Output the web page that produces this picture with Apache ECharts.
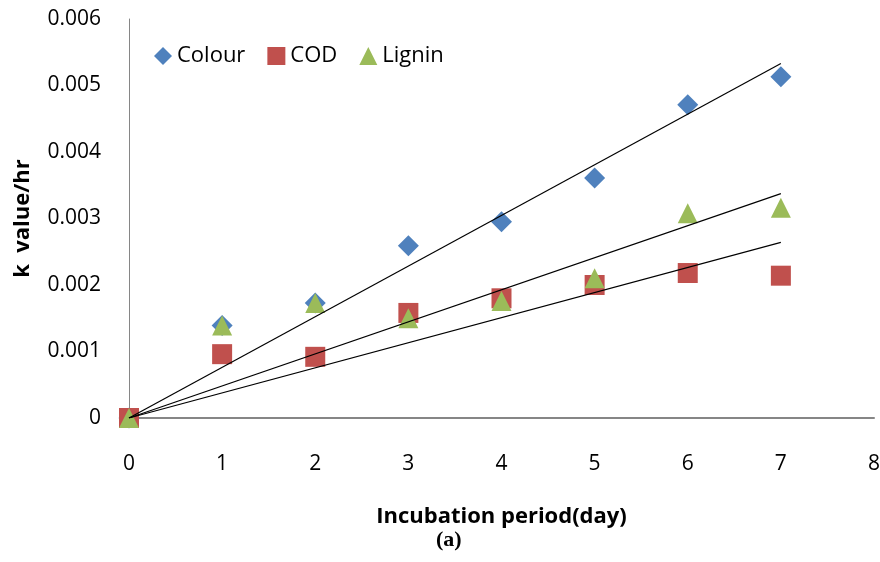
<!DOCTYPE html>
<html>
<head>
<meta charset="utf-8">
<script src="https://cdn.jsdelivr.net/npm/echarts@6/dist/echarts.min.js"></script>
<style>
  html, body { margin: 0; padding: 0; background: #fff; }
  #chart { width: 880px; height: 562px; }
</style>
</head>
<body>
<div id="chart"></div>
<script>
// incubation days and k values
const days = [0, 1, 2, 3, 4, 5, 6, 7]
const colourK = [0, 0.00139, 0.00173, 0.00259, 0.00295, 0.00361, 0.00471, 0.00513]
const codK = [0, 0.00096, 0.00092, 0.00158, 0.0018, 0.002, 0.00218, 0.00214]
const ligninK = [0, 0.00139, 0.00173, 0.0015, 0.00176, 0.0021, 0.00308, 0.00316]

const seriesNames = ['Colour', 'COD', 'Lignin']
const seriesColors = ['#4F81BD', '#C0504D', '#9BBB59']
const seriesSymbols = ['diamond', 'rect', 'triangle']

// excel style linear trendline forced through origin
const fitLine = (ys) => {
    let sxy = 0, sxx = 0
    days.forEach((x, i) => { sxy += x * ys[i]; sxx += x * x })
    const k = sxy / sxx
    const last = days[days.length - 1]
    return [[0, 0], [last, k * last]]
}

const pairs = (ys) => days.map((d, i) => [d, ys[i]])

const font = 'Open Sans'
const allK = [colourK, codK, ligninK]

const series = []
allK.forEach((ys, i) => {
    series.push({
        name: seriesNames[i],
        type: 'scatter',
        data: pairs(ys),
        symbol: seriesSymbols[i],
        symbolSize: seriesSymbols[i] === 'diamond' ? 21 : 20,
        itemStyle: { color: seriesColors[i], opacity: 1 },
        z: 2 + i
    })
})
allK.forEach((ys) => {
    series.push({
        type: 'line',
        data: fitLine(ys),
        symbol: 'none',
        lineStyle: { color: '#000', width: 1.2 },
        silent: true,
        z: 10
    })
})

const chart = echarts.init(document.getElementById('chart'))
chart.setOption({
    animation: false,
    textStyle: { fontFamily: font },
    grid: { left: 129, right: 6, top: 19, bottom: 144, outerBoundsMode: 'none' },
    legend: {
        data: seriesNames,
        left: 149,
        top: 40,
        itemWidth: 18,
        itemHeight: 18,
        itemGap: 22,
        textStyle: { fontSize: 22, color: '#000', fontFamily: font }
    },
    xAxis: {
        type: 'value',
        min: 0,
        max: 8,
        interval: 1,
        name: 'Incubation period(day)',
        nameLocation: 'middle',
        nameGap: 88,
        nameTextStyle: { fontSize: 22, fontWeight: 'bold', color: '#000', fontFamily: font },
        axisLine: { lineStyle: { color: '#868686', width: 2 } },
        axisTick: { show: false },
        splitLine: { show: false },
        axisLabel: { fontSize: 21, color: '#000', margin: 36 }
    },
    yAxis: {
        type: 'value',
        min: 0,
        max: 0.006,
        interval: 0.001,
        name: 'k  value/hr',
        nameLocation: 'middle',
        nameGap: 95,
        nameTextStyle: { fontSize: 22, fontWeight: 'bold', color: '#000', fontFamily: font },
        axisLine: { show: true, lineStyle: { color: '#868686', width: 1 } },
        axisTick: { show: false },
        splitLine: { show: false },
        axisLabel: { fontSize: 21, color: '#000', margin: 28 }
    },
    graphic: [{
        type: 'text',
        left: 436,
        top: 529,
        style: { text: '(a)', font: 'bold 22px "Liberation Serif", serif', fill: '#000' }
    }],
    series: series
})
</script>
</body>
</html>
